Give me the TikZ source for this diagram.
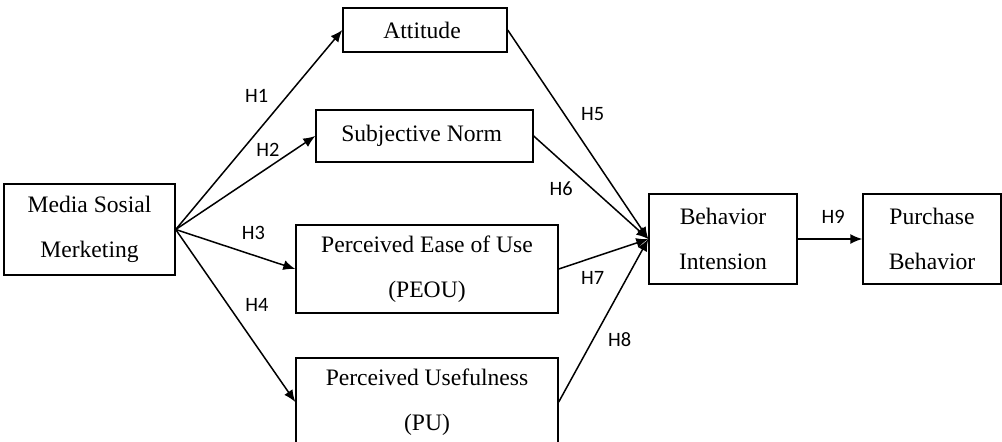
\documentclass[tikz,border=0pt]{standalone}
\usepackage{fontspec}
\setmainfont{Liberation Serif}
\newfontfamily\hypfont{Carlito}
\usetikzlibrary{arrows.meta}
\tikzset{
	box/.style = { draw, line width=0.7pt, inner sep=0pt, align=center,
		font=\fontsize{11.8}{22.5}\selectfont },
	link/.style = { line width=0.75pt, -{Latex[length=6pt,width=5pt]} },
	hyp/.style = { font=\hypfont\fontsize{10.2}{12}\selectfont }
}
\newcommand{\hyp}[1]{H#1}

\begin{document}
\begin{tikzpicture}[ x=0.5pt, y=-0.5pt ]
	\useasboundingbox (0,0) rectangle (1002,441);
	\node [ box, minimum width=85.5pt, minimum height=45.5pt ] (1) at (89.5,229.5)
		{ Media Sosial \\ Merketing };
	\node [ box, minimum width=82pt, minimum height=22pt ] (2) at (425,30)
		{ Attitude };
	\node [ box, minimum width=108.5pt, minimum height=26pt ] (3) at (424.5,136)
		{ Subjective Norm };
	\node [ box, minimum width=131pt, minimum height=44pt ] (4) at (427,269)
		{ Perceived Ease of Use \\ (PEOU) };
	\node [ box, minimum width=131pt, minimum height=44pt ] (5) at (427,402)
		{ Perceived Usefulness \\ (PU) };
	\node [ box, minimum width=74pt, minimum height=45pt ] (6) at (723,239)
		{ Behavior \\ Intension };
	\node [ box, minimum width=69pt, minimum height=45pt ] (7) at (932,239)
		{ Purchase \\ Behavior };
	% from media sosial
	\draw [ link ] (1.east) to 
		node [ hyp, pos=0.6, above left ] { \hyp{1} } 
		(2.west);
	\draw [ link ] (1.east) to 
		node [ hyp, pos=0.66, above=2pt ] { \hyp{2} } 
		(3.west);
	\draw [ link ] (1.east) to 
		node [ hyp, pos=0.65, above=4pt ] { \hyp{3} } 
		(4.west);
	\draw [ link ] (1.east) to 
		node [ hyp, pos=0.52, above right ] { \hyp{4} } 
		(5.west);
	% into behavior intension
	\draw [ link ] (2.east) to 
		node [ hyp, pos=0.47, above right ] { \hyp{5} } 
		(6.west);
	\draw [ link ] (3.east) to 
		node [ hyp, pos=0.37, below left, xshift=2pt ] { \hyp{6} } 
		(6.west);
	\draw [ link ] (4.east) to 
		node [ hyp, pos=0.38, below=3pt ] { \hyp{7} } 
		(6.west);
	\draw [ link ] (5.east) to 
		node [ hyp, pos=0.47, below right ] { \hyp{8} } 
		(6.west);
	\draw [ link ] (6) to 
		node [ hyp, pos=0.55, above=4pt ] { \hyp{9} } 
		(7);
\end{tikzpicture}
\end{document}
